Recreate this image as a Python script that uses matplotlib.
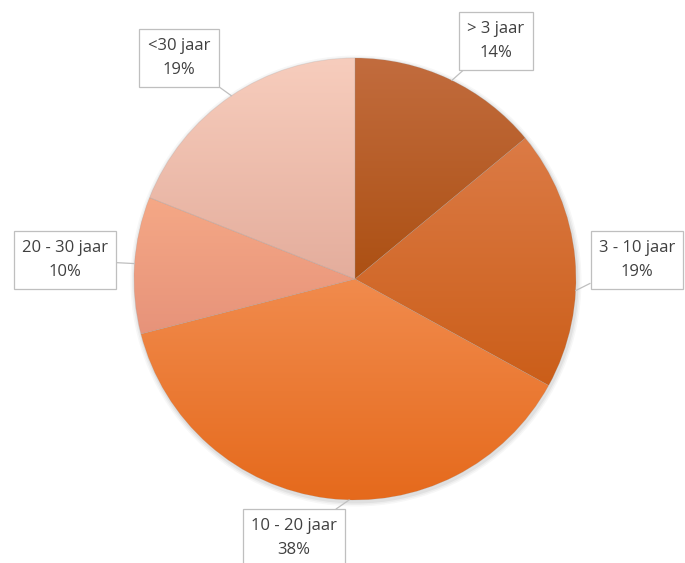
import numpy as np
import matplotlib.pyplot as plt
from matplotlib.colors import LinearSegmentedColormap

# data
labels = ['> 3 jaar', '3 - 10 jaar', '10 - 20 jaar', '20 - 30 jaar', '<30 jaar']
shares = [14, 19, 38, 10, 19]

# gradient colours per slice (top, bottom)
top_colors = ['#C26C3E', '#DC7B46', '#F18B4D', '#F5A886', '#F7CDBD']
bottom_colors = ['#AC5013', '#CB5E19', '#E5691B', '#E7937A', '#E4AD9C']

# label box centres (pixels from top-left) and where the callout touches the pie (deg)
box_pos = [(496, 41), (637, 260), (294, 538), (65, 260), (179, 58)]
touch_deg = [64, -3, 268.5, 176, 124]

W, H = 685, 563
cx, cy, r = 355, H - 279, 221

fig = plt.figure(figsize=(W / 100, H / 100), dpi=100)
ax = fig.add_axes([0, 0, 1, 1])

# soft shadow
for k, a in enumerate([0.05, 0.04, 0.03]):
    sh = plt.Circle((cx + 1, cy - 2), r + 1.5 + k * 1.5, color='black', alpha=a, lw=0)
    ax.add_patch(sh)

wedges, _ = ax.pie(shares, startangle=90, counterclock=False, center=(cx, cy),
                   radius=r, wedgeprops=dict(linewidth=0.5, edgecolor=(0.6, 0.6, 0.6, 0.25)))

grad = np.linspace(0, 1, 256).reshape(-1, 1)
for w, c1, c2 in zip(wedges, top_colors, bottom_colors):
    w.set_facecolor('none')
    cmap = LinearSegmentedColormap.from_list('g', [c1, c2])
    verts = w.get_path().vertices
    x0, x1 = verts[:, 0].min(), verts[:, 0].max()
    y0, y1 = verts[:, 1].min(), verts[:, 1].max()
    im = ax.imshow(grad, cmap=cmap, aspect='auto', extent=[x0, x1, y0, y1],
                   origin='upper', zorder=1, interpolation='bilinear')
    im.set_clip_path(w)
    w.set_zorder(2)

# labels with boxes and short callout lines
for lab, s, (bx, by), t in zip(labels, shares, box_pos, touch_deg):
    ex = cx + r * np.cos(np.radians(t))
    ey = cy + r * np.sin(np.radians(t))
    ax.annotate(f'{lab}\n{s}%', xy=(ex, ey), xytext=(bx, H - by),
                ha='center', va='center', fontsize=12, color='#404040',
                family='Open Sans', linespacing=1.7, zorder=5,
                bbox=dict(boxstyle='square,pad=0.5', fc='white', ec='#BFBFBF', lw=0.9),
                arrowprops=dict(arrowstyle='-', color='#BFBFBF', lw=0.9,
                                shrinkA=0, shrinkB=0))

ax.set_xlim(0, W)
ax.set_ylim(0, H)
ax.set_aspect('equal')
ax.axis('off')

fig.savefig('out.png', dpi=100)
